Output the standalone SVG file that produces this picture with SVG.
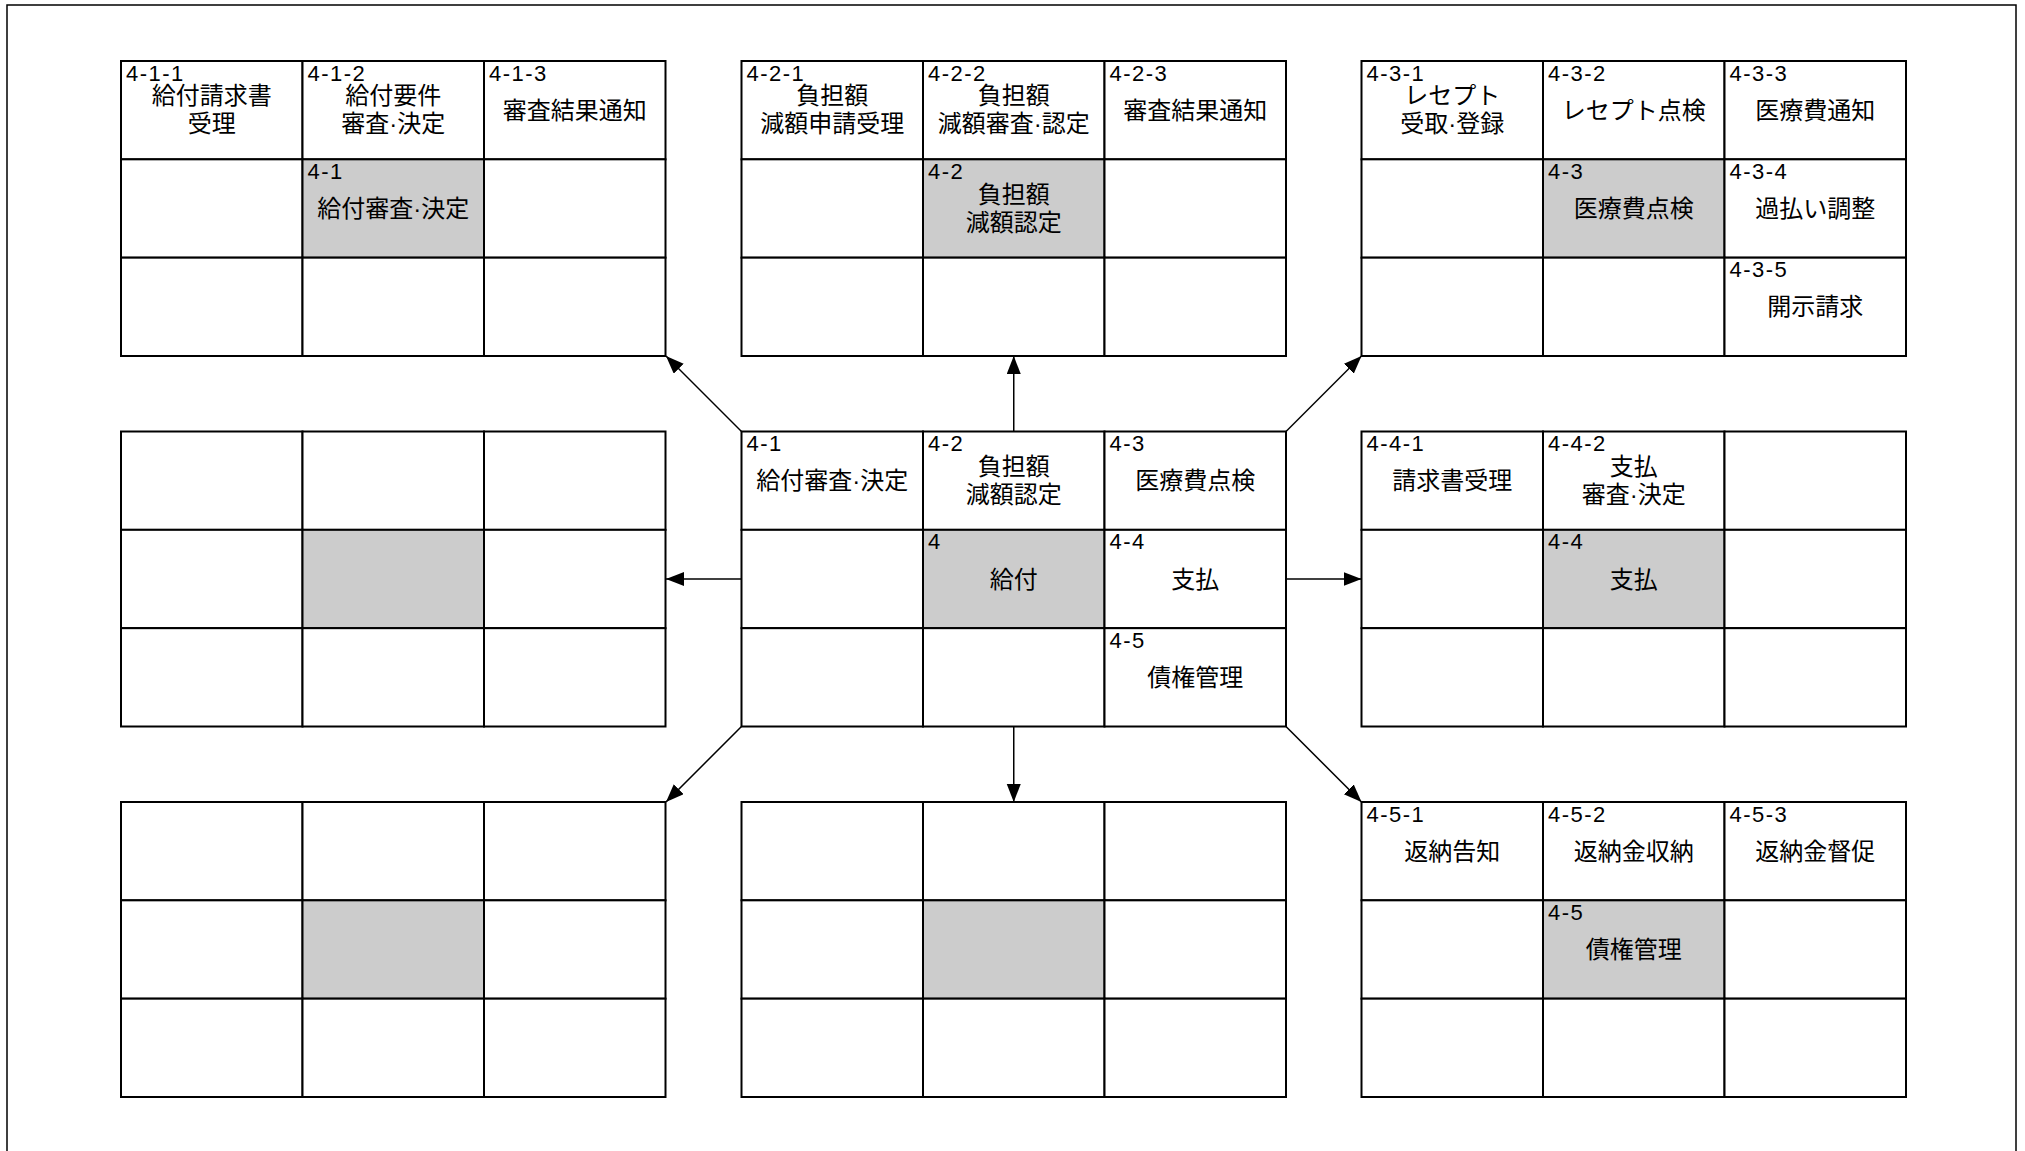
<svg xmlns="http://www.w3.org/2000/svg" width="2025" height="1151" viewBox="0 0 2025 1151">
<style>
.bg{fill:#ffffff}
.frame{fill:none;stroke:#000;stroke-width:1.5}
.c{fill:#ffffff;stroke:#000;stroke-width:2}
.g{fill:#cccccc;stroke:#000;stroke-width:2}
.lb{font-family:"Liberation Sans","Noto Sans CJK JP",sans-serif;font-size:22px;letter-spacing:1.5px;fill:#000}
.t{font-family:"Liberation Sans","Noto Sans CJK JP",sans-serif;font-size:24px;fill:#000;text-anchor:middle}
.cn{stroke:#000;stroke-width:1.5;fill:none;marker-end:url(#ah)}
</style>
<defs>
<marker id="ah" markerUnits="userSpaceOnUse" markerWidth="20" markerHeight="16" refX="18" refY="7" orient="auto">
<path d="M0,0 L18,7 L0,14 z" fill="#000"/>
</marker>
<g id="grid">
<rect class="c" x="0" y="0" width="181.5" height="98.33"/>
<rect class="c" x="181.5" y="0" width="181.5" height="98.33"/>
<rect class="c" x="363" y="0" width="181.5" height="98.33"/>
<rect class="c" x="0" y="98.33" width="181.5" height="98.33"/>
<rect class="g" x="181.5" y="98.33" width="181.5" height="98.33"/>
<rect class="c" x="363" y="98.33" width="181.5" height="98.33"/>
<rect class="c" x="0" y="196.67" width="181.5" height="98.33"/>
<rect class="c" x="181.5" y="196.67" width="181.5" height="98.33"/>
<rect class="c" x="363" y="196.67" width="181.5" height="98.33"/>
</g>
</defs>
<rect class="bg" x="0" y="0" width="2025" height="1151"/>
<rect class="frame" x="7" y="5" width="2009" height="1170"/>

<g id="connectors">
<path class="cn" d="M741.5,431.5 L666,356"/>
<path class="cn" d="M1013.75,431.5 L1013.75,356"/>
<path class="cn" d="M1286,431.5 L1361.5,356"/>
<path class="cn" d="M741.5,579 L666,579"/>
<path class="cn" d="M1286,579 L1361.5,579"/>
<path class="cn" d="M741.5,726.5 L666,802"/>
<path class="cn" d="M1013.75,726.5 L1013.75,802"/>
<path class="cn" d="M1286,726.5 L1361.5,802"/>
</g>

<g id="node-4-1">
<use href="#grid" x="121" y="61"/>
<text class="lb" x="126" y="80.5">4-1-1</text>
<text class="t" x="211.75" y="104">給付請求書</text>
<text class="t" x="211.75" y="132">受理</text>
<text class="lb" x="307.5" y="80.5">4-1-2</text>
<text class="t" x="393.25" y="104">給付要件</text>
<text class="t" x="393.25" y="132">審査·決定</text>
<text class="lb" x="489" y="80.5">4-1-3</text>
<text class="t" x="574.75" y="118.5">審査結果通知</text>
<text class="lb" x="307.5" y="178.5">4-1</text>
<text class="t" x="393.25" y="217">給付審査·決定</text>
</g>

<g id="node-4-2">
<use href="#grid" x="741.5" y="61"/>
<text class="lb" x="746.5" y="80.5">4-2-1</text>
<text class="t" x="832.25" y="104">負担額</text>
<text class="t" x="832.25" y="132">減額申請受理</text>
<text class="lb" x="928" y="80.5">4-2-2</text>
<text class="t" x="1013.75" y="104">負担額</text>
<text class="t" x="1013.75" y="132">減額審査·認定</text>
<text class="lb" x="1109.5" y="80.5">4-2-3</text>
<text class="t" x="1195.25" y="118.5">審査結果通知</text>
<text class="lb" x="928" y="178.5">4-2</text>
<text class="t" x="1013.75" y="202.5">負担額</text>
<text class="t" x="1013.75" y="230.5">減額認定</text>
</g>

<g id="node-4-3">
<use href="#grid" x="1361.5" y="61"/>
<text class="lb" x="1366.5" y="80.5">4-3-1</text>
<text class="t" x="1452.25" y="104">レセプト</text>
<text class="t" x="1452.25" y="132">受取·登録</text>
<text class="lb" x="1548" y="80.5">4-3-2</text>
<text class="t" x="1633.75" y="118.5">レセプト点検</text>
<text class="lb" x="1729.5" y="80.5">4-3-3</text>
<text class="t" x="1815.25" y="118.5">医療費通知</text>
<text class="lb" x="1548" y="178.5">4-3</text>
<text class="t" x="1633.75" y="217">医療費点検</text>
<text class="lb" x="1729.5" y="178.5">4-3-4</text>
<text class="t" x="1815.25" y="217">過払い調整</text>
<text class="lb" x="1729.5" y="277">4-3-5</text>
<text class="t" x="1815.25" y="315.3">開示請求</text>
</g>

<g id="node-left">
<use href="#grid" x="121" y="431.5"/>
</g>

<g id="node-4">
<use href="#grid" x="741.5" y="431.5"/>
<text class="lb" x="746.5" y="451">4-1</text>
<text class="t" x="832.25" y="489.2">給付審査·決定</text>
<text class="lb" x="928" y="451">4-2</text>
<text class="t" x="1013.75" y="474.7">負担額</text>
<text class="t" x="1013.75" y="502.7">減額認定</text>
<text class="lb" x="1109.5" y="451">4-3</text>
<text class="t" x="1195.25" y="489.2">医療費点検</text>
<text class="lb" x="928" y="548.5">4</text>
<text class="t" x="1013.75" y="587.5">給付</text>
<text class="lb" x="1109.5" y="548.5">4-4</text>
<text class="t" x="1195.25" y="587.5">支払</text>
<text class="lb" x="1109.5" y="647.5">4-5</text>
<text class="t" x="1195.25" y="685.8">債権管理</text>
</g>

<g id="node-4-4">
<use href="#grid" x="1361.5" y="431.5"/>
<text class="lb" x="1366.5" y="451">4-4-1</text>
<text class="t" x="1452.25" y="489.2">請求書受理</text>
<text class="lb" x="1548" y="451">4-4-2</text>
<text class="t" x="1633.75" y="474.7">支払</text>
<text class="t" x="1633.75" y="502.7">審査·決定</text>
<text class="lb" x="1548" y="548.5">4-4</text>
<text class="t" x="1633.75" y="587.5">支払</text>
</g>

<g id="node-bottom-left">
<use href="#grid" x="121" y="802"/>
</g>

<g id="node-bottom">
<use href="#grid" x="741.5" y="802"/>
</g>

<g id="node-4-5">
<use href="#grid" x="1361.5" y="802"/>
<text class="lb" x="1366.5" y="821.5">4-5-1</text>
<text class="t" x="1452.25" y="859.7">返納告知</text>
<text class="lb" x="1548" y="821.5">4-5-2</text>
<text class="t" x="1633.75" y="859.7">返納金収納</text>
<text class="lb" x="1729.5" y="821.5">4-5-3</text>
<text class="t" x="1815.25" y="859.7">返納金督促</text>
<text class="lb" x="1548" y="919.5">4-5</text>
<text class="t" x="1633.75" y="958">債権管理</text>
</g>
</svg>
